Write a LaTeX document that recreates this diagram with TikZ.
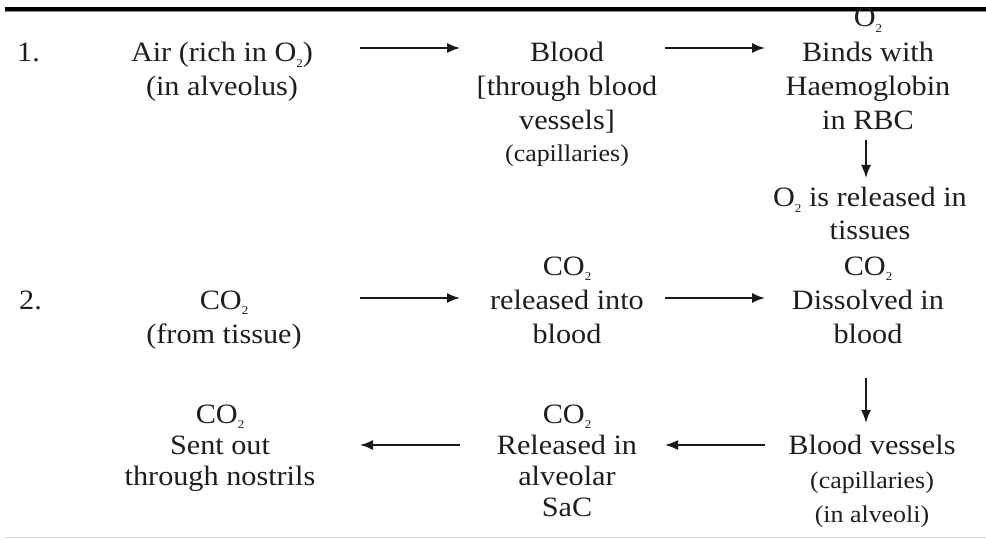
\documentclass[tikz,border=0pt]{standalone}
\usepackage{fontspec}
\setmainfont[FakeStretch=1.08]{Liberation Serif}
\usetikzlibrary{arrows.meta}
\definecolor{txt}{HTML}{1E1E1E}
\newcommand{\firstln}{\rule{0pt}{22pt}}
\newcommand{\smallsz}{\fontsize{24}{34}\selectfont}
\newcommand{\subtwo}{\raisebox{-0.18em}{\fontsize{12}{12}\selectfont 2}}
\tikzset{
  box/.style={align=center, inner sep=0pt, outer sep=0pt, anchor=north, text=txt,
              font=\fontsize{28}{34}\selectfont},
  boxtight/.style={box, font=\fontsize{28}{31}\selectfont},
  numlbl/.style={anchor=base west, inner sep=0pt, text=txt, font=\fontsize{28}{34}\selectfont},
  arr/.style={line width=1.7pt, draw=black!90, -{Latex[length=13pt,width=10pt]}}
}
\begin{document}
\begin{tikzpicture}[x=1pt,y=-1pt]
\useasboundingbox (0,0) rectangle (986,540);
% rules
\draw[line width=3.5pt, black] (5,9) -- (986,9);
\draw[line width=1pt, black!45] (5,12) -- (986,12);
\draw[line width=1.2pt, black!15] (5,537.5) -- (986,537.5);

% row 1
\node[numlbl] (n1) at (17,62) {1.};
\node[box] (air) at (222,40) {\firstln Air (rich in O\subtwo)\\(in alveolus)};
\node[box] (blood) at (567,40) {\firstln Blood\\{[}through blood\\vessels{]}\\[-2pt]{\smallsz (capillaries)}};
\node[box] (binds) at (868,5) {\firstln O\subtwo\\[1pt]Binds with\\Haemoglobin\\in RBC};
\node[box] (o2rel) at (870,185) {\firstln O\subtwo{} is released in\\[-1pt]tissues};

\draw[arr] ([shift={(138pt,-8pt)}]air.north) -- ([shift={(-107pt,-8pt)}]blood.north);
\draw[arr] ([shift={(98pt,-8pt)}]blood.north) -- ([shift={(-103pt,-43pt)}]binds.north);
\draw[arr] ([shift={(-2pt,-10pt)}]binds.south) -- ([shift={(-4pt,7pt)}]o2rel.north);

% row 2
\node[numlbl] (n2) at (19,309) {2.};
\node[box] (tissue) at (224,287) {\firstln CO\subtwo\\(from tissue)};
\node[box] (relinto) at (567,253) {\firstln CO\subtwo\\released into\\blood};
\node[box] (dissolved) at (868,253) {\firstln CO\subtwo\\Dissolved in\\blood};

\draw[arr] ([shift={(136pt,-11pt)}]tissue.north) -- ([shift={(-107pt,-45pt)}]relinto.north);
\draw[arr] ([shift={(98pt,-45pt)}]relinto.north) -- ([shift={(-103pt,-45pt)}]dissolved.north);

% row 3
\node[box] (bvessels) at (872,432) {\firstln Blood vessels\\{\smallsz (capillaries)}\\{\smallsz (in alveoli)}};
\node[boxtight] (alveolar) at (567,401) {\firstln CO\subtwo\\Released in\\alveolar\\SaC};
\node[boxtight] (sentout) at (220,401) {\firstln CO\subtwo\\Sent out\\through nostrils};

\draw[arr] ([shift={(-2pt,-35pt)}]dissolved.south) -- ([shift={(-6pt,9pt)}]bvessels.north);
\draw[arr] ([shift={(-107pt,-13pt)}]bvessels.north) -- ([shift={(98pt,-44pt)}]alveolar.north);
\draw[arr] ([shift={(-107pt,-44pt)}]alveolar.north) -- ([shift={(140pt,-44pt)}]sentout.north);
\end{tikzpicture}
\end{document}
